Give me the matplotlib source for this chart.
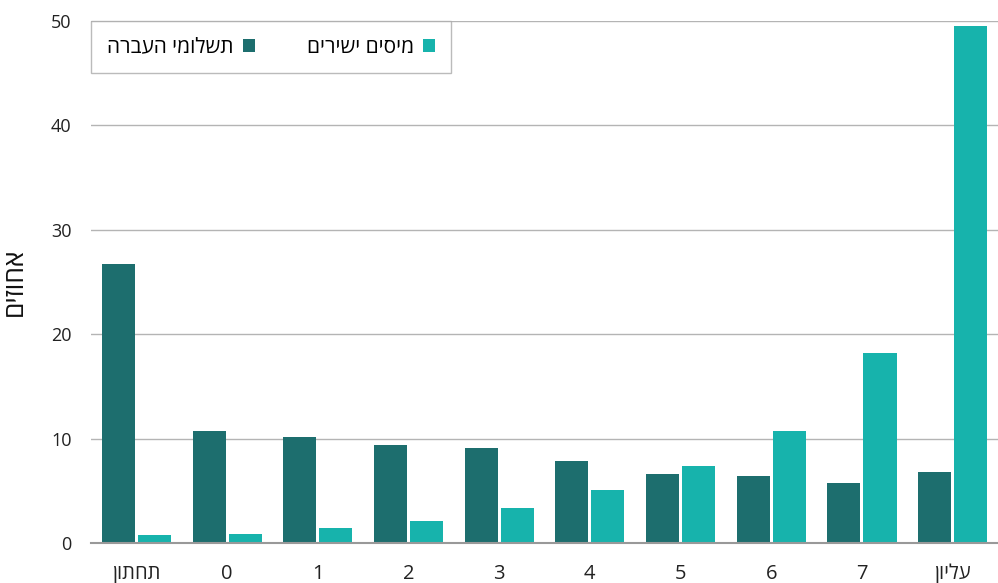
import numpy as np
import matplotlib.pyplot as plt

plt.rcParams['font.family'] = ['Open Sans', 'DejaVu Sans']

# matplotlib has no bidi support, so Hebrew strings are stored reversed for display
def heb(s):
    return s[::-1]

categories = ['תחתון', '0', '1', '2', '3', '4', '5', '6', '7', 'עליון']
transfers = [26.7, 10.7, 10.15, 9.4, 9.1, 7.85, 6.6, 6.4, 5.75, 6.8]
taxes = [0.75, 0.85, 1.45, 2.1, 3.35, 5.05, 7.4, 10.75, 18.2, 49.55]

dark = '#1d6e6e'
light = '#17b3ac'

fig = plt.figure(figsize=(9.98, 5.83), dpi=100)
ax = fig.add_axes([0.0912, 0.0686, 0.9088, 0.8954])

x = np.arange(len(categories))
w = 0.364
off = w / 2 + 0.017
b1 = ax.bar(x - off, transfers, w, color=dark, label=heb('תשלומי העברה'), zorder=3)
b2 = ax.bar(x + off, taxes, w, color=light, label=heb('מיסים ישירים'), zorder=3)

ax.set_xlim(-0.5, len(categories) - 0.5)
ax.set_ylim(0, 50)
ax.set_yticks([0, 10, 20, 30, 40, 50])
ax.set_xticks(x)
ax.set_xticklabels([heb(c) for c in categories])

ax.grid(axis='y', color='#b4b4b4', linewidth=1, zorder=0)
for s in ['top', 'right', 'left']:
    ax.spines[s].set_visible(False)
ax.spines['bottom'].set_color('#999999')
ax.spines['bottom'].set_linewidth(1.5)
ax.spines['bottom'].set_zorder(4)

ax.tick_params(axis='y', length=0, pad=14, labelsize=13, labelcolor='#222222')
ax.tick_params(axis='x', length=0, pad=15, labelsize=14.5, labelcolor='#222222')

ax.set_ylabel(heb('אחוזים'), fontsize=19, color='#111111', fontweight='medium')
ax.yaxis.set_label_coords(-0.0695, 0.5)

leg = ax.legend(handles=[b1, b2], loc='upper left', ncol=2, markerfirst=False,
                bbox_to_anchor=(0, 1), borderaxespad=0, fancybox=False,
                edgecolor='#aaaaaa', fontsize=15, handlelength=0.58, handleheight=0.58,
                borderpad=0.75, columnspacing=2.5, handletextpad=0.45)
leg.get_frame().set_linewidth(1)
leg.set_zorder(5)

fig.savefig('out.png', dpi=100)
